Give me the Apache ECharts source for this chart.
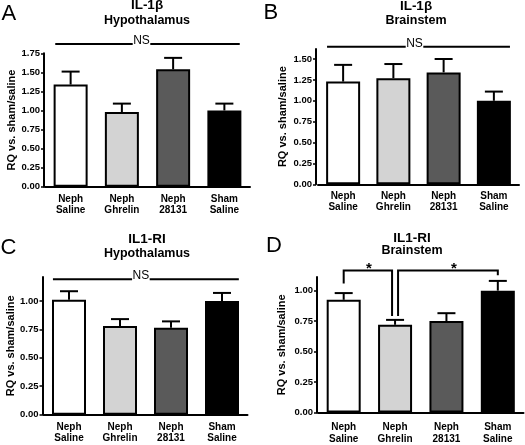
<!DOCTYPE html>
<html><head><meta charset="utf-8">
<script src="https://cdn.jsdelivr.net/npm/echarts@6/dist/echarts.min.js"></script>
<style>html,body{margin:0;padding:0;background:#fff}#c{width:525px;height:445px}</style>
</head><body><div id="c"></div>
<script>
// ---------- data ----------
const categories = ['Neph\nSaline', 'Neph\nGhrelin', 'Neph\n28131', 'Sham\nSaline'];
// A: IL-1β Hypothalamus
const il1bHypoMean = [1.34, 0.98, 1.54, 1.00];
const il1bHypoSem  = [0.17, 0.11, 0.15, 0.09];
// B: IL-1β Brainstem
const il1bBrainMean = [1.23, 1.27, 1.34, 1.00];
const il1bBrainSem  = [0.20, 0.17, 0.16, 0.11];
// C: IL1-RI Hypothalamus
const il1riHypoMean = [1.01, 0.78, 0.765, 1.00];
const il1riHypoSem  = [0.075, 0.06, 0.055, 0.07];
// D: IL1-RI Brainstem
const il1riBrainMean = [0.925, 0.72, 0.75, 1.00];
const il1riBrainSem  = [0.055, 0.04, 0.065, 0.08];
// tick labels
const ticksA = [0, 0.25, 0.5, 0.75, 1, 1.25, 1.5, 1.75];
const ticksB = [0, 0.25, 0.5, 0.75, 1, 1.25, 1.5];
const ticksC = [0, 0.25, 0.5, 0.75, 1];
const ticksD = [0, 0.25, 0.5, 0.75, 1];
const panelLetters = ['A', 'B', 'C', 'D'];
const titleLine1 = ['IL-1β', 'IL-1β', 'IL1-RI', 'IL1-RI'];
const titleLine2 = ['Hypothalamus', 'Brainstem', 'Hypothalamus', 'Brainstem'];
const yAxisName = 'RQ vs. sham/saline';
const nsLabel = 'NS';
const starLabel = '*';

// ---------- styling / layout ----------
const FONT = '"Liberation Sans", Arial, sans-serif';
const barColors = ['#ffffff', '#d3d3d3', '#5a5a5a', '#000000'];

const panels = [
  {mean: il1bHypoMean, sem: il1bHypoSem, ticks: ticksA, max: 1.75,
   grid: {left: 45, top: 53.3, width: 205, height: 133.4}, offset: 1, nameGap: 25, xMargin: 7, xLH: 11,
   ns: {level: 1.873, l: 0.30, r: 0.30, shift: -6}},
  {mean: il1bBrainMean, sem: il1bBrainSem, ticks: ticksB, max: 1.62,
   grid: {left: 318, top: 49, width: 201, height: 135.3}, offset: 2, nameGap: 28, xMargin: 6, xLH: 11.5,
   ns: {level: 1.647, l: 0.32, r: 0.32, shift: -4}},
  {mean: il1riHypoMean, sem: il1riHypoSem, ticks: ticksC, max: 1.21,
   grid: {left: 43.5, top: 277, width: 204, height: 137.7}, offset: 1, nameGap: 26.5, xMargin: 7, xLH: 11,
   ns: {level: 1.191, l: 0.315, r: 0.33, shift: -5}},
  {mean: il1riBrainMean, sem: il1riBrainSem, ticks: ticksD, max: 1.112,
   grid: {left: 318, top: 277, width: 205.5, height: 139}, offset: 1, nameGap: 30, xMargin: 8.5, xLH: 12,
   brackets: [
     {from: 0, to: 1, fromShift: 0, toShift: -3, level: 1.166, fromEnd: 1.058, toEnd: 0.792, starShift: 1},
     {from: 1, to: 3, fromShift: 3, toShift: 0, level: 1.166, fromEnd: 0.792, toEnd: 1.126, starShift: 6}
   ]}
];

function errRender(params, api) {
  const x = api.value(0), m = api.value(1), e = api.value(2);
  const p0 = api.coord([x, m]);
  const p1 = api.coord([x, m + e]);
  const half = 9;
  return {type: 'group', children: [
    {type: 'line', shape: {x1: p0[0], y1: p0[1], x2: p1[0], y2: p1[1]}, style: {stroke: '#000', lineWidth: 2}},
    {type: 'line', shape: {x1: p1[0] - half, y1: p1[1], x2: p1[0] + half, y2: p1[1]}, style: {stroke: '#000', lineWidth: 2}}
  ]};
}

function nsRender(p) {
  return function (params, api) {
    const bw = api.size([1, 0])[0];
    const a = api.coord([0, p.level]);
    const b = api.coord([3, p.level]);
    const y = a[1];
    const x0 = a[0] - p.l * bw, x1 = b[0] + p.r * bw;
    const xm = (x0 + x1) / 2 + p.shift;
    const hw = 8.8;
    return {type: 'group', children: [
      {type: 'line', shape: {x1: x0, y1: y, x2: xm - hw, y2: y}, style: {stroke: '#000', lineWidth: 2}},
      {type: 'line', shape: {x1: xm + hw, y1: y, x2: x1, y2: y}, style: {stroke: '#000', lineWidth: 2}},
      {type: 'text', style: {text: nsLabel, x: xm, y: y - 3.2, textAlign: 'center', textVerticalAlign: 'middle',
        font: '12px ' + FONT, fill: '#000'}}
    ]};
  };
}

function bracketRender(list) {
  return function (params, api) {
    const children = [];
    list.forEach(function (br) {
      const xa = api.coord([br.from, br.level])[0] + br.fromShift;
      const xb = api.coord([br.to, br.level])[0] + br.toShift;
      const yl = api.coord([0, br.level])[1];
      const ya = api.coord([0, br.fromEnd])[1];
      const yb = api.coord([0, br.toEnd])[1];
      children.push({type: 'polyline', shape: {points: [[xa, ya], [xa, yl], [xb, yl], [xb, yb]]},
        style: {stroke: '#000', lineWidth: 2, fill: null}});
      children.push({type: 'text', style: {text: starLabel, x: (xa + xb) / 2 + br.starShift, y: yl - 1.8,
        textAlign: 'center', textVerticalAlign: 'middle', font: 'bold 15px ' + FONT, fill: '#000'}});
    });
    return {type: 'group', children: children};
  };
}

const grids = [], xAxes = [], yAxes = [], series = [];
panels.forEach(function (p, i) {
  grids.push(Object.assign({containLabel: false}, p.grid));
  xAxes.push({
    gridIndex: i, type: 'category', data: categories,
    axisLine: {lineStyle: {color: '#000', width: 2}},
    axisTick: {alignWithLabel: true, length: 4, lineStyle: {color: '#000', width: 1.5}},
    axisLabel: {interval: 0, fontSize: 10, fontWeight: 'bold', lineHeight: p.xLH, margin: p.xMargin,
      color: '#000', fontFamily: FONT},
    splitLine: {show: false}
  });
  yAxes.push({
    gridIndex: i, type: 'value', min: 0, max: p.max, offset: p.offset,
    axisLine: {show: true, lineStyle: {color: '#000', width: 2}},
    axisTick: {show: true, length: 3, lineStyle: {color: '#000', width: 1.5}, customValues: p.ticks},
    axisLabel: {customValues: p.ticks, formatter: function (v) { return (+v).toFixed(2); },
      fontSize: 9.5, fontWeight: 'bold', fontFamily: FONT, color: '#000', margin: 4},
    splitLine: {show: false},
    name: yAxisName, nameLocation: 'middle', nameGap: p.nameGap,
    nameTextStyle: {fontSize: 11, fontWeight: 'bold', fontFamily: FONT, color: '#000'}
  });
  series.push({
    type: 'bar', xAxisIndex: i, yAxisIndex: i, barWidth: 34,
    data: p.mean.map(function (v, k) { return {value: v, itemStyle: {color: barColors[k]}}; }),
    itemStyle: {borderColor: '#000', borderWidth: 2},
    emphasis: {disabled: true}, silent: true, z: 2
  });
  series.push({
    type: 'custom', xAxisIndex: i, yAxisIndex: i, renderItem: errRender, silent: true, z: 3,
    encode: {x: 0, y: 1},
    data: p.mean.map(function (v, k) { return [k, v, p.sem[k]]; })
  });
  if (p.ns) {
    series.push({type: 'custom', xAxisIndex: i, yAxisIndex: i, renderItem: nsRender(p.ns), silent: true, z: 4,
      clip: false, encode: {x: 0, y: 1}, data: [[0, 0]]});
  }
  if (p.brackets) {
    series.push({type: 'custom', xAxisIndex: i, yAxisIndex: i, renderItem: bracketRender(p.brackets), silent: true, z: 4,
      clip: false, encode: {x: 0, y: 1}, data: [[0, 0]]});
  }
});

// titles & panel letters
const letterPos = [[1.5, 14], [263.5, 12.5], [0.5, 247.5], [266, 245.5]];
const titlePos = [
  {x: 147, y1: 4.8, y2: 20.3, s2: 12.5},
  {x: 416, y1: 5.8, y2: 21, s2: 12.5},
  {x: 147, y1: 239.5, y2: 254, s2: 12.5},
  {x: 412, y1: 237.8, y2: 250.5, s2: 12.5}
];
const graphics = [];
panelLetters.forEach(function (L, i) {
  graphics.push({type: 'text', x: letterPos[i][0], y: letterPos[i][1], silent: true,
    style: {text: L, font: '22px ' + FONT, fill: '#000', textAlign: 'left', textVerticalAlign: 'middle'}});
  const t = titlePos[i];
  graphics.push({type: 'text', x: t.x, y: t.y1, silent: true,
    style: {text: titleLine1[i], font: 'bold 13.5px ' + FONT, fill: '#000', textAlign: 'center', textVerticalAlign: 'middle'}});
  graphics.push({type: 'text', x: t.x, y: t.y2, silent: true,
    style: {text: titleLine2[i], font: 'bold ' + t.s2 + 'px ' + FONT, fill: '#000', textAlign: 'center', textVerticalAlign: 'middle'}});
});

const chart = echarts.init(document.getElementById('c'), null, {renderer: 'canvas'});
chart.setOption({
  animation: false,
  backgroundColor: '#fff',
  grid: grids, xAxis: xAxes, yAxis: yAxes, series: series,
  graphic: graphics
});
</script>
</body></html>
